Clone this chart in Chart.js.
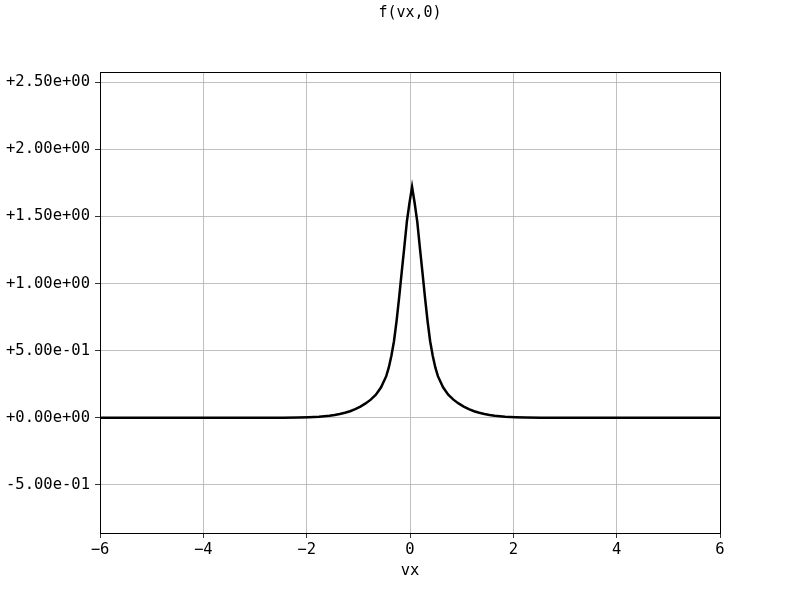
<!DOCTYPE html>
<html>
<head>
<meta charset="utf-8">
<script src="https://cdn.jsdelivr.net/npm/chart.js@4"></script>
<style>
  html, body { margin: 0; padding: 0; background: #fff; }
  #wrap { width: 800px; height: 600px; }
</style>
</head>
<body>
<div id="wrap"><canvas id="chart" width="800" height="600"></canvas></div>
<script>
// ── f(vx,0) profile ──
const vx = [-6.0, -3.96, -2.96, -2.46, -2.16, -1.96, -1.86, -1.76, -1.66, -1.56, -1.46, -1.36, -1.26, -1.16, -1.06,
  -0.96, -0.86, -0.76, -0.66, -0.56, -0.46, -0.41, -0.36, -0.31, -0.26, -0.21, -0.16, -0.11, -0.06, -0.01, 0.04,
  0.09, 0.14, 0.19, 0.24, 0.29, 0.34, 0.39, 0.44, 0.49, 0.54, 0.64, 0.74, 0.84, 0.94, 1.04, 1.14, 1.24, 1.34, 1.44,
  1.54, 1.64, 1.74, 1.84, 1.94, 2.04, 2.24, 2.54, 3.04, 4.04, 6.0];
const fVal = [0, 0, 0.0002, 0.0007, 0.0018, 0.0035, 0.005, 0.007, 0.011, 0.015, 0.021, 0.028, 0.037, 0.049, 0.064,
  0.083, 0.107, 0.135, 0.172, 0.227, 0.310, 0.375, 0.462, 0.570, 0.720, 0.897, 1.086, 1.270, 1.462, 1.600, 1.720,
  1.600, 1.462, 1.270, 1.086, 0.897, 0.720, 0.570, 0.462, 0.375, 0.310, 0.227, 0.172, 0.135, 0.107, 0.083, 0.064, 0.049, 0.037, 0.028,
  0.021, 0.015, 0.011, 0.007, 0.005, 0.0035, 0.0018, 0.0007, 0.0002, 0, 0];

const xTicks = [-6, -4, -2, 0, 2, 4, 6];
const xTickLabels = ['\u22126', '\u22124', '\u22122', '0', '2', '4', '6'];
const yTicks = [-0.5, 0, 0.5, 1.0, 1.5, 2.0, 2.5];
const yTickLabels = ['-5.00e-01', '+0.00e+00', '+5.00e-01', '+1.00e+00', '+1.50e+00', '+2.00e+00', '+2.50e+00'];

const FONT = 'DejaVu Sans Mono';
const GRID = '#b0b0b0';

// draw the full frame around the plot area
const frame = {
  id: 'frame',
  afterDraw(chart) {
    const { ctx, chartArea: a } = chart;
    ctx.save();
    ctx.strokeStyle = '#000';
    ctx.lineWidth = 1;
    ctx.strokeRect(a.left + 0.5, a.top + 0.5, a.right - a.left, a.bottom - a.top);
    ctx.restore();
  }
};

new Chart(document.getElementById('chart'), {
  type: 'scatter',
  data: {
    datasets: [{
      data: vx.map((x, i) => ({ x, y: fVal[i] })),
      showLine: true,
      borderColor: '#000',
      borderWidth: 2.5,
      pointRadius: 0,
      tension: 0,
      fill: false
    }]
  },
  options: {
    responsive: false,
    animation: false,
    layout: { padding: { left: 0, right: 80, top: 0, bottom: 20 } },
    plugins: {
      legend: { display: false },
      tooltip: { enabled: false },
      title: {
        display: true,
        text: 'f(vx,0)',
        fullSize: false,
        color: '#000',
        font: { family: FONT, size: 15, weight: 'normal' },
        padding: { top: 4, bottom: 50 }
      }
    },
    scales: {
      x: {
        type: 'linear',
        min: -6,
        max: 6,
        afterBuildTicks: s => { s.ticks = xTicks.map(v => ({ value: v })); },
        afterFit: s => { s.height = 47; },
        ticks: {
          color: '#000',
          font: { family: FONT, size: 15.5 },
          padding: 3,
          maxRotation: 0,
          callback: (v, i) => xTickLabels[i]
        },
        grid: { color: GRID, lineWidth: 0.8, tickColor: '#000', tickLength: 5 },
        border: { display: true, color: '#000' },
        title: {
          display: true,
          text: 'vx',
          color: '#000',
          font: { family: FONT, size: 15.5 },
          padding: { top: 2, bottom: 0 }
        }
      },
      y: {
        type: 'linear',
        min: -0.858,
        max: 2.575,
        afterBuildTicks: s => { s.ticks = yTicks.map(v => ({ value: v })); },
        afterFit: s => { s.width = 100; },
        ticks: {
          color: '#000',
          font: { family: FONT, size: 15.5 },
          padding: 5,
          callback: (v, i) => yTickLabels[i]
        },
        grid: { color: GRID, lineWidth: 0.8, tickColor: '#000', tickLength: 5 },
        border: { display: true, color: '#000' }
      }
    }
  },
  plugins: [frame]
});
</script>
</body>
</html>
